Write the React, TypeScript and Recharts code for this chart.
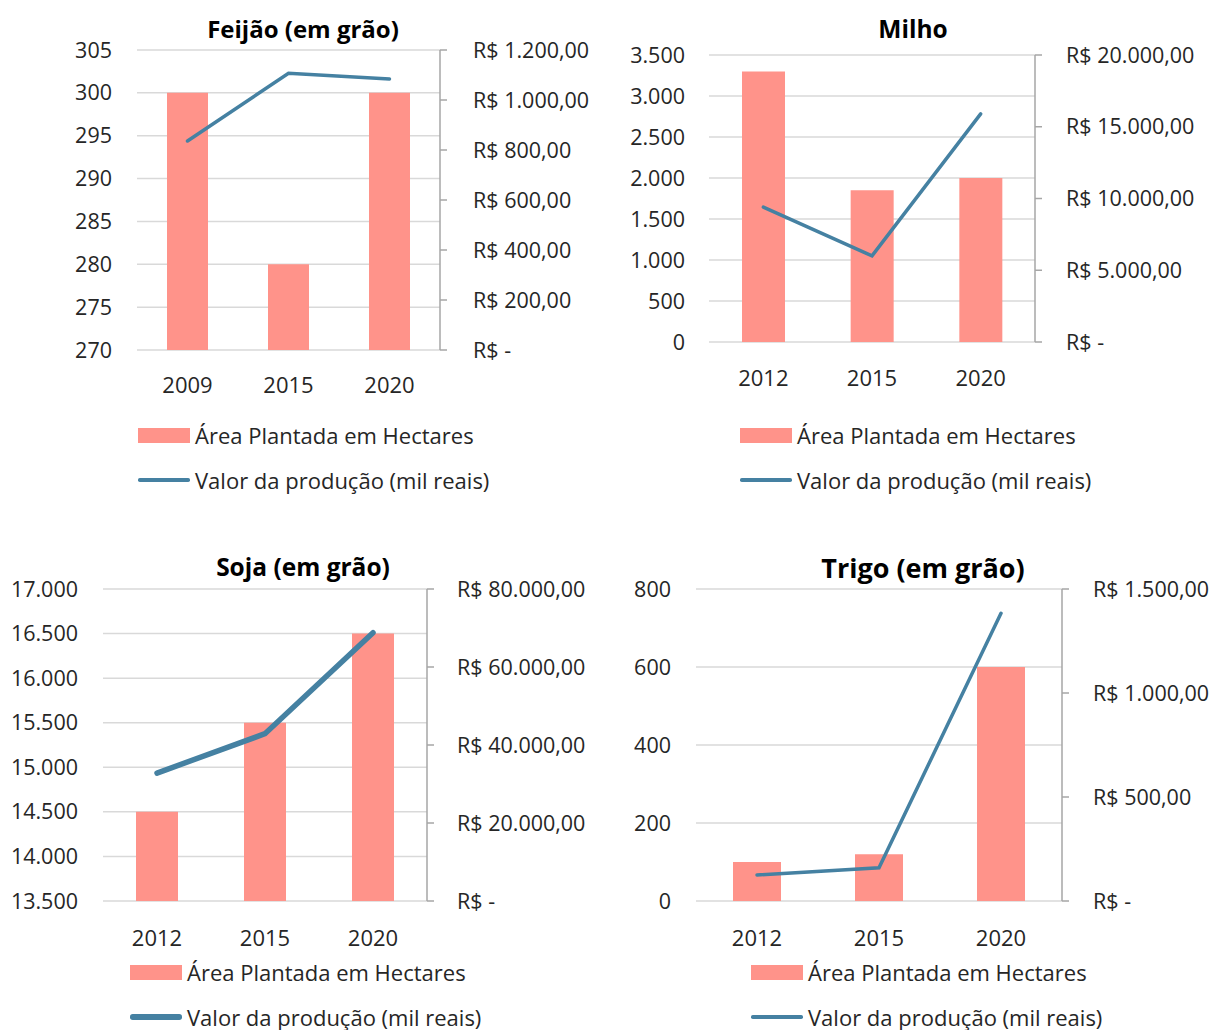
import React from 'react';
import { ComposedChart, Bar, Line, XAxis, YAxis, CartesianGrid, Legend } from 'recharts';

const FONT = '"Open Sans", "Noto Sans", sans-serif';
const BAR_COLOR = '#FF938A';
const LINE_COLOR = '#4581A2';
const GRID_COLOR = '#D9D9D9';
const AXIS_COLOR = '#A6A6A6';
const TEXT_COLOR = '#262626';

const AREA_NAME = 'Área Plantada em Hectares';
const VALOR_NAME = 'Valor da produção (mil reais)';

// Feijão (em grão)
const feijaoAnos = ['2009', '2015', '2020'];
const feijaoArea = [300, 280, 300];
const feijaoValor = [836, 1107, 1084];
const feijaoAreaTicks = [270, 275, 280, 285, 290, 295, 300, 305];
const feijaoValorTicks = [0, 200, 400, 600, 800, 1000, 1200];

// Milho
const milhoAnos = ['2012', '2015', '2020'];
const milhoArea = [3300, 1850, 2000];
const milhoValor = [9400, 6000, 15900];
const milhoAreaTicks = [0, 500, 1000, 1500, 2000, 2500, 3000, 3500];
const milhoValorTicks = [0, 5000, 10000, 15000, 20000];

// Soja (em grão)
const sojaAnos = ['2012', '2015', '2020'];
const sojaArea = [14500, 15500, 16500];
const sojaValor = [32800, 42900, 68800];
const sojaAreaTicks = [13500, 14000, 14500, 15000, 15500, 16000, 16500, 17000];
const sojaValorTicks = [0, 20000, 40000, 60000, 80000];

// Trigo (em grão)
const trigoAnos = ['2012', '2015', '2020'];
const trigoArea = [100, 120, 600];
const trigoValor = [125, 160, 1383];
const trigoAreaTicks = [0, 200, 400, 600, 800];
const trigoValorTicks = [0, 500, 1000, 1500];

const thousands = (n: number) => String(n).replace(/\B(?=(\d{3})+(?!\d))/g, '.');
const fmtArea = (v: number) => thousands(v);
const fmtReais = (v: number) => (v === 0 ? 'R$ -' : `R$ ${thousands(v)},00`);

const toRows = (anos: string[], area: number[], valor: number[]) =>
  anos.map((ano, i) => ({ ano, area: area[i], valor: valor[i] }));

const LegendBox = ({ payload, lineWidth }: any) => {
  const items = [...(payload || [])].sort((a: any, b: any) => (a.type === 'line' ? 1 : 0) - (b.type === 'line' ? 1 : 0));
  return (
    <div style={{ fontFamily: FONT, fontSize: 22, color: TEXT_COLOR }}>
      {items.map((p: any, i: number) => (
        <div key={i} style={{ display: 'flex', alignItems: 'center', height: 30, marginBottom: i === 0 ? 15 : 0 }}>
          {p.type === 'line' ? (
            <div style={{ width: 52, height: lineWidth, background: p.color, borderRadius: lineWidth / 2 }} />
          ) : (
            <div style={{ width: 52, height: 15, background: p.color }} />
          )}
          <span style={{ marginLeft: 5, whiteSpace: 'nowrap' }}>{p.value}</span>
        </div>
      ))}
    </div>
  );
};

interface PanelProps {
  title: string;
  titleX: number;
  titleY: number;
  titleSize: number;
  left: number;
  top: number;
  plotLeft: number;
  plotRight: number;
  plotTop: number;
  plotBottom: number;
  leftGap: number;
  rightGap: number;
  xGap: number;
  barSize: number;
  lineWidth: number;
  legendX: number;
  legendY: number;
  anos: string[];
  area: number[];
  valor: number[];
  areaTicks: number[];
  valorTicks: number[];
}

const W = 606;
const H = 515;

const Panel = (p: PanelProps) => {
  const data = toRows(p.anos, p.area, p.valor);
  const leftW = p.plotLeft - p.left;
  const rightW = p.left + W - p.plotRight;
  const xH = 60;
  const tickStyle = { fill: TEXT_COLOR, fontSize: 21.5, fontFamily: FONT };
  return (
    <div style={{ position: 'absolute', left: p.left, top: p.top, width: W, height: H }}>
      <div
        style={{
          position: 'absolute',
          left: p.titleX - p.left - 200,
          top: p.titleY - p.top - 17,
          width: 400,
          height: 34,
          lineHeight: '34px',
          textAlign: 'center',
          fontFamily: FONT,
          fontWeight: 700,
          fontSize: p.titleSize,
          color: '#000',
          zIndex: 2,
        }}
      >
        {p.title}
      </div>
      <ComposedChart
        width={W}
        height={H}
        data={data}
        margin={{ top: p.plotTop - p.top, right: 0, left: 0, bottom: p.top + H - p.plotBottom - xH }}
      >
        <CartesianGrid yAxisId="left" vertical={false} stroke={GRID_COLOR} strokeWidth={1.5} />
        <XAxis
          dataKey="ano"
          height={xH}
          axisLine={false}
          tickLine={false}
          tickSize={0}
          tickMargin={p.xGap}
          tick={{ ...tickStyle, fontSize: 22 }}
        />
        <YAxis
          yAxisId="left"
          width={leftW}
          domain={[p.areaTicks[0], p.areaTicks[p.areaTicks.length - 1]]}
          ticks={p.areaTicks}
          tickFormatter={fmtArea}
          axisLine={false}
          tickLine={false}
          tickSize={0}
          tickMargin={p.leftGap}
          tick={tickStyle}
          interval={0}
        />
        <YAxis
          yAxisId="right"
          orientation="right"
          width={rightW}
          domain={[p.valorTicks[0], p.valorTicks[p.valorTicks.length - 1]]}
          ticks={p.valorTicks}
          tickFormatter={fmtReais}
          axisLine={{ stroke: AXIS_COLOR, strokeWidth: 1.5 }}
          tickLine={{ stroke: AXIS_COLOR, strokeWidth: 1.5 }}
          tickSize={7}
          tickMargin={p.rightGap}
          tick={{ ...tickStyle, textAnchor: 'start' }}
          interval={0}
        />
        <Bar yAxisId="left" dataKey="area" name={AREA_NAME} fill={BAR_COLOR} barSize={p.barSize} isAnimationActive={false} />
        <Line
          yAxisId="right"
          type="linear"
          dataKey="valor"
          name={VALOR_NAME}
          stroke={LINE_COLOR}
          strokeWidth={p.lineWidth}
          strokeLinecap="round"
          dot={false}
          activeDot={false}
          isAnimationActive={false}
        />
        <Legend
          layout="vertical"
          align="center"
          verticalAlign="middle"
          wrapperStyle={{ left: p.legendX - p.left, top: p.legendY - p.top - 15, width: 'auto' }}
          content={(props: any) => <LegendBox {...props} lineWidth={p.lineWidth} />}
        />
      </ComposedChart>
    </div>
  );
};

export default function App() {
  return (
    <div style={{ position: 'absolute', left: 0, top: 0, width: 1213, height: 1030, background: '#fff' }}>
      <Panel
        title="Feijão (em grão)" titleX={303} titleY={29} titleSize={24}
        left={0} top={0}
        plotLeft={137} plotRight={440} plotTop={50} plotBottom={350}
        leftGap={25} rightGap={26} xGap={27} barSize={41} lineWidth={3.5}
        legendX={138} legendY={435}
        anos={feijaoAnos} area={feijaoArea} valor={feijaoValor}
        areaTicks={feijaoAreaTicks} valorTicks={feijaoValorTicks}
      />
      <Panel
        title="Milho" titleX={913} titleY={29} titleSize={24.5}
        left={606} top={0}
        plotLeft={709} plotRight={1035} plotTop={55} plotBottom={342}
        leftGap={24} rightGap={24} xGap={28} barSize={43} lineWidth={3.5}
        legendX={740} legendY={435}
        anos={milhoAnos} area={milhoArea} valor={milhoValor}
        areaTicks={milhoAreaTicks} valorTicks={milhoValorTicks}
      />
      <Panel
        title="Soja (em grão)" titleX={303} titleY={567} titleSize={24.5}
        left={0} top={515}
        plotLeft={103} plotRight={427} plotTop={589} plotBottom={901}
        leftGap={25} rightGap={23} xGap={29} barSize={42} lineWidth={5.5}
        legendX={130} legendY={972}
        anos={sojaAnos} area={sojaArea} valor={sojaValor}
        areaTicks={sojaAreaTicks} valorTicks={sojaValorTicks}
      />
      <Panel
        title="Trigo (em grão)" titleX={923} titleY={568} titleSize={27}
        left={606} top={515}
        plotLeft={696} plotRight={1062} plotTop={589} plotBottom={901}
        leftGap={25} rightGap={24} xGap={29} barSize={48} lineWidth={3.5}
        legendX={751} legendY={972}
        anos={trigoAnos} area={trigoArea} valor={trigoValor}
        areaTicks={trigoAreaTicks} valorTicks={trigoValorTicks}
      />
    </div>
  );
}
